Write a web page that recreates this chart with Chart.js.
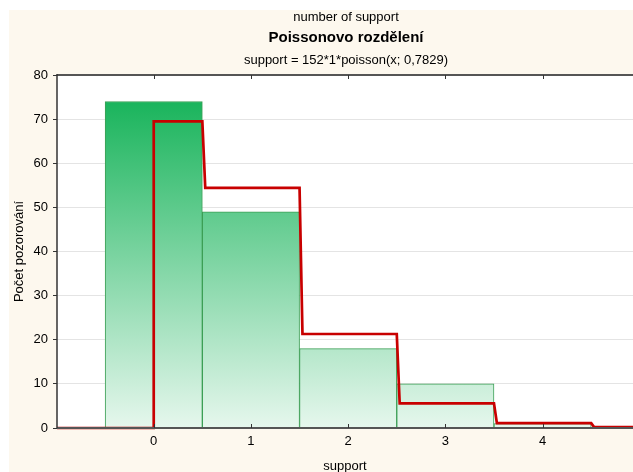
<!DOCTYPE html>
<html><head><meta charset="utf-8">
<script src="https://cdn.jsdelivr.net/npm/chart.js@4/dist/chart.umd.min.js"></script>
<style>html,body{margin:0;padding:0;background:#fff;overflow:hidden}#wrap{width:633px;height:472px;overflow:hidden}</style>
</head><body><div id="wrap"><canvas id="c" width="633" height="474"></canvas></div>
<script>
const categories = [0, 1, 2, 3, 4];
const observedCounts = [74, 49, 18, 10, 1];
const fittedCounts = [69.5, 54.4, 21.3, 5.6, 1.1, 0.2];
const yTicks = [0, 10, 20, 30, 40, 50, 60, 70, 80];
const titleLines = ["number of support", "Poissonovo rozdělení", "support = 152*1*poisson(x; 0,7829)"];
const xAxisTitle = "support";
const yAxisTitle = "Počet pozorování";
const X_MIN = -0.995, X_MAX = 4.93;

// step line for the fitted curve
const fitPoints = [{x: X_MIN, y: 0}, {x: 0, y: 0}, {x: 0, y: fittedCounts[0]}];
for (let k = 1; k < fittedCounts.length; k++) {
  fitPoints.push({x: k - 0.5, y: fittedCounts[k - 1]});
  fitPoints.push({x: k - 0.47, y: fittedCounts[k]});
}
fitPoints.push({x: X_MAX, y: fittedCounts[fittedCounts.length - 1]});

const FONT = "'Liberation Sans', Arial, sans-serif";

const bgPlugin = {
  id: 'bg',
  beforeDraw(chart) {
    const ctx = chart.ctx, a = chart.chartArea;
    ctx.save();
    ctx.fillStyle = '#fff';
    ctx.fillRect(0, 0, chart.width, chart.height);
    ctx.fillStyle = '#fdf8ee';
    ctx.fillRect(9, 10, chart.width - 9, chart.height - 10);
    ctx.fillStyle = '#fff';
    ctx.fillRect(a.left, a.top, a.right - a.left, a.bottom - a.top);
    ctx.restore();
  },
  afterDraw(chart) {
    const ctx = chart.ctx, a = chart.chartArea, xs = chart.scales.x;
    const cx = (a.left + chart.width) / 2 + 1;
    ctx.save();
    ctx.fillStyle = '#000';
    ctx.textAlign = 'center';
    ctx.textBaseline = 'middle';
    ctx.font = '13px ' + FONT;
    ctx.fillText(titleLines[0], cx, 17);
    ctx.font = 'bold 15px ' + FONT;
    ctx.fillText(titleLines[1], cx, 38);
    ctx.font = '13px ' + FONT;
    ctx.fillText(titleLines[2], cx, 60);
    // top border
    ctx.strokeStyle = '#555';
    ctx.lineWidth = 2;
    ctx.beginPath(); ctx.moveTo(a.left, a.top); ctx.lineTo(a.right, a.top); ctx.stroke();
    // bottom axis
    ctx.beginPath(); ctx.moveTo(a.left, a.bottom); ctx.lineTo(a.right, a.bottom); ctx.stroke();
    // left axis
    ctx.strokeStyle = '#333';
    ctx.lineWidth = 1.5;
    ctx.beginPath(); ctx.moveTo(a.left, a.top - 1); ctx.lineTo(a.left, a.bottom); ctx.stroke();
    // x ticks on top and bottom
    ctx.lineWidth = 1;
    ctx.strokeStyle = '#333';
    categories.forEach(v => {
      const px = Math.round(xs.getPixelForValue(v)) + 0.5;
      ctx.beginPath(); ctx.moveTo(px, a.top); ctx.lineTo(px, a.top + 4); ctx.stroke();
      ctx.beginPath(); ctx.moveTo(px, a.bottom); ctx.lineTo(px, a.bottom - 4); ctx.stroke();
    });
    ctx.restore();
  }
};

const ctx = document.getElementById('c').getContext('2d');
new Chart(ctx, {
  data: {
    datasets: [
      {
        type: 'line',
        order: 0,
        data: fitPoints,
        borderColor: '#c80000',
        borderWidth: 2.7,
        pointRadius: 0,
        tension: 0,
        fill: false,
        clip: 2
      },
      {
        type: 'bar',
        order: 1,
        data: categories.map((c, i) => ({x: c, y: observedCounts[i]})),
        barPercentage: 1,
        categoryPercentage: 1,
        borderColor: '#3c9f55',
        borderWidth: 1,
        borderSkipped: 'bottom',
        backgroundColor(context) {
          const chart = context.chart, ys = chart.scales.y;
          if (!chart.chartArea || !ys) return '#7fd6a3';
          const y0 = ys.getPixelForValue(74), y1 = ys.getPixelForValue(0);
          const g = chart.ctx.createLinearGradient(0, y0, 0, y1);
          g.addColorStop(0, '#1ab45c');
          g.addColorStop(1, '#e6f7ed');
          return g;
        }
      }
    ]
  },
  options: {
    responsive: false,
    animation: false,
    events: [],
    layout: {padding: {left: 0, top: 75, right: 0, bottom: 0}},
    plugins: {legend: {display: false}, tooltip: {enabled: false}},
    scales: {
      x: {
        type: 'linear',
        min: X_MIN,
        max: X_MAX,
        offset: false,
        afterBuildTicks(axis) { axis.ticks = categories.map(v => ({value: v})); },
        afterFit(axis) { axis.height = 46; },
        grid: {display: false, drawTicks: false},
        border: {display: false},
        ticks: {color: '#000', font: {family: FONT, size: 13}, padding: 6, maxRotation: 0, autoSkip: false},
        title: {display: true, text: xAxisTitle, color: '#000', font: {family: FONT, size: 13}, padding: {top: 4, bottom: 0}}
      },
      y: {
        min: 0,
        max: 80,
        afterBuildTicks(axis) { axis.ticks = yTicks.map(v => ({value: v})); },
        afterFit(axis) { axis.width = 57; },
        grid: {color: '#e4e4e4', lineWidth: 1, tickColor: '#333', tickLength: 4, drawTicks: true},
        border: {display: false},
        ticks: {color: '#000', font: {family: FONT, size: 13}, padding: 5},
        title: {display: true, text: yAxisTitle, color: '#000', font: {family: FONT, size: 13}, padding: {top: 12, bottom: 0}}
      }
    }
  },
  plugins: [bgPlugin]
});
</script></body></html>
